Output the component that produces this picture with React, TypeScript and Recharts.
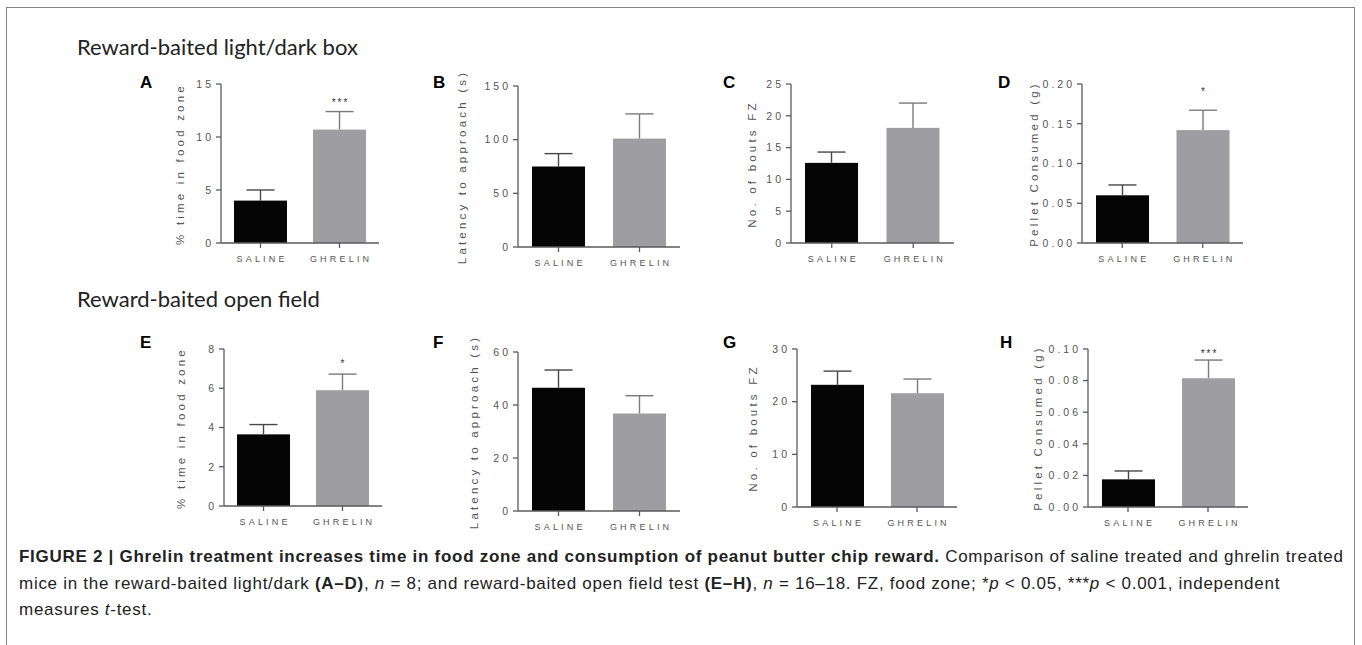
import React from 'react';
import { BarChart, Bar, XAxis, YAxis, Cell } from 'recharts';

// ---------- data ----------
const categories = ['SALINE', 'GHRELIN'];
const panelLetters = ['A', 'B', 'C', 'D', 'E', 'F', 'G', 'H'];
const rowTitles = ['Reward-baited light/dark box', 'Reward-baited open field'];
const yAxisLabels = [
  '% time in food zone',
  'Latency to approach (s)',
  'No. of bouts FZ',
  'Pellet Consumed (g)',
  '% time in food zone',
  'Latency to approach (s)',
  'No. of bouts FZ',
  'Pellet Consumed (g)',
];
const salineMean = [4.0, 75, 12.6, 0.06, 3.65, 46.5, 23.2, 0.0175];
const salineErrTop = [5.0, 87, 14.3, 0.073, 4.15, 53.2, 25.8, 0.0228];
const ghrelinMean = [10.7, 101, 18.1, 0.142, 5.9, 36.8, 21.6, 0.0815];
const ghrelinErrTop = [12.4, 124, 22.0, 0.167, 6.72, 43.5, 24.3, 0.093];
const salineSig = ['', '', '', '', '', '', '', ''];
const ghrelinSig = ['***', '', '', '*', '*', '', '', '***'];
const yTicks = [
  [0, 5, 10, 15],
  [0, 50, 100, 150],
  [0, 5, 10, 15, 20, 25],
  [0, 0.05, 0.1, 0.15, 0.2],
  [0, 2, 4, 6, 8],
  [0, 20, 40, 60],
  [0, 10, 20, 30],
  [0, 0.02, 0.04, 0.06, 0.08, 0.1],
];
const tickDecimals = [0, 0, 0, 2, 0, 0, 0, 2];

// ---------- layout / style ----------
const layout = [
  { axisX: 221, topY: 84, plotW: 158, plotH: 159, labelX: 180, letterX: 140, letterY: 83, starGap: 6 },
  { axisX: 518, topY: 86, plotW: 162, plotH: 161, labelX: 462, letterX: 433, letterY: 83, starGap: 6 },
  { axisX: 791, topY: 84, plotW: 163, plotH: 159, labelX: 752, letterX: 723, letterY: 83, starGap: 6 },
  { axisX: 1082, topY: 84, plotW: 161, plotH: 159, labelX: 1034, letterX: 998, letterY: 83, starGap: 15 },
  { axisX: 224, topY: 349, plotW: 158, plotH: 157, labelX: 181, letterX: 140, letterY: 343, starGap: 7 },
  { axisX: 518, topY: 352, plotW: 162, plotH: 159, labelX: 474, letterX: 433, letterY: 343, starGap: 6 },
  { axisX: 797, topY: 349, plotW: 160, plotH: 158, labelX: 753, letterX: 723, letterY: 343, starGap: 6 },
  { axisX: 1088, topY: 349, plotW: 160, plotH: 158, labelX: 1038, letterX: 1000, letterY: 343, starGap: 3 },
];
const barColors = ['#050505', '#9e9ea2'];
const errColors = ['#474747', '#7a7a7a'];
const axisColor = '#5a5a5a';
const tickColor = '#555';
const FONT = '"Liberation Sans", Arial, sans-serif';
const Y_AXIS_W = 50;
const M_TOP = 26;
const M_RIGHT = 8;
const X_AXIS_H = 32;
const CAP_HALF = 14;

const YTick = (props: any) => {
  const { x, y, payload, decimals } = props;
  return (
    <text
      x={x}
      y={y}
      dy={3.8}
      textAnchor="end"
      fill={tickColor}
      fontSize={10.5}
      fontFamily={FONT}
      style={{ letterSpacing: '3px' }}
    >
      {Number(payload.value).toFixed(decimals)}
    </text>
  );
};

const XTick = (props: any) => {
  const { x, y, payload } = props;
  return (
    <text
      x={x + 1.6}
      y={y}
      dy={12}
      textAnchor="middle"
      fill={tickColor}
      fontSize={9}
      fontFamily={FONT}
      style={{ letterSpacing: '3.2px' }}
    >
      {payload.value}
    </text>
  );
};

// bar + upward error bar + significance mark, all positioned from the bar geometry
const makeShape = (gap: number) => (props: any) => {
  const { x, y, width, height, fill, payload, index } = props;
  const pxPerUnit = payload.mean !== 0 ? height / payload.mean : 0;
  const errPx = y - (payload.errTop - payload.mean) * pxPerUnit;
  const cx = x + width / 2;
  const ec = errColors[index] || '#555';
  return (
    <g>
      <rect x={x} y={y} width={width} height={height} fill={fill} />
      <line x1={cx} y1={y} x2={cx} y2={errPx} stroke={ec} strokeWidth={1.4} />
      <line x1={cx - CAP_HALF} y1={errPx} x2={cx + CAP_HALF} y2={errPx} stroke={ec} strokeWidth={1.4} />
      {payload.sig ? (
        <text
          x={cx + 1}
          y={errPx - gap}
          textAnchor="middle"
          fill="#333"
          fontSize={10}
          fontFamily={FONT}
          style={{ letterSpacing: '2px' }}
        >
          {payload.sig}
        </text>
      ) : null}
    </g>
  );
};

const Panel = ({ i }: { i: number }) => {
  const L = layout[i];
  const data = categories.map((c, k) => {
    const mean = k === 0 ? salineMean[i] : ghrelinMean[i];
    const errTop = k === 0 ? salineErrTop[i] : ghrelinErrTop[i];
    return {
      cat: c,
      mean,
      errTop,
      sig: k === 0 ? salineSig[i] : ghrelinSig[i],
    };
  });
  const ticks = yTicks[i];
  const chartW = Y_AXIS_W + L.plotW + M_RIGHT;
  const chartH = M_TOP + L.plotH + X_AXIS_H;
  const centerY = L.topY + L.plotH / 2;
  return (
    <>
      <div
        style={{
          position: 'absolute',
          left: L.axisX - Y_AXIS_W,
          top: L.topY - M_TOP,
          width: chartW,
          height: chartH,
        }}
      >
        <BarChart
          width={chartW}
          height={chartH}
          data={data}
          margin={{ top: M_TOP, right: M_RIGHT, left: 0, bottom: 0 }}
          barCategoryGap={0}
        >
          <XAxis
            dataKey="cat"
            axisLine={{ stroke: axisColor, strokeWidth: 1.3 }}
            tickLine={{ stroke: axisColor, strokeWidth: 1.3 }}
            tickSize={5}
            tick={<XTick />}
            height={X_AXIS_H}
            interval={0}
          />
          <YAxis
            width={Y_AXIS_W}
            domain={[0, ticks[ticks.length - 1]]}
            ticks={ticks}
            allowDataOverflow
            axisLine={{ stroke: axisColor, strokeWidth: 1.3 }}
            tickLine={{ stroke: axisColor, strokeWidth: 1.3 }}
            tickSize={5}
            tickMargin={2}
            tick={<YTick decimals={tickDecimals[i]} />}
          />
          <Bar dataKey="mean" barSize={53} isAnimationActive={false} shape={makeShape(L.starGap)}>
            {data.map((d, k) => (
              <Cell key={d.cat} fill={barColors[k]} />
            ))}
          </Bar>
        </BarChart>
      </div>
      <div
        style={{
          position: 'absolute',
          left: L.labelX - 150,
          top: centerY - 8,
          width: 300,
          height: 16,
          lineHeight: '16px',
          textAlign: 'center',
          transform: 'rotate(-90deg)',
          fontFamily: FONT,
          fontSize: 11.5,
          letterSpacing: '3.2px',
          color: tickColor,
          whiteSpace: 'nowrap',
        }}
      >
        {yAxisLabels[i]}
      </div>
      <div
        style={{
          position: 'absolute',
          left: L.letterX,
          top: L.letterY - 11,
          height: 22,
          lineHeight: '22px',
          fontFamily: FONT,
          fontWeight: 'bold',
          fontSize: 17,
          color: '#000',
        }}
      >
        {panelLetters[i]}
      </div>
    </>
  );
};

const captionStyle: React.CSSProperties = {
  position: 'absolute',
  left: 19,
  fontFamily: FONT,
  fontSize: 17,
  letterSpacing: '0.72px',
  color: '#222',
  whiteSpace: 'nowrap',
  lineHeight: '20px',
};

export default function App() {
  return (
    <div
      style={{
        position: 'absolute',
        left: 0,
        top: 0,
        width: 1362,
        height: 645,
        overflow: 'hidden',
        background: '#fff',
      }}
    >
      <div
        style={{
          position: 'absolute',
          left: 6,
          top: 7,
          width: 1347,
          height: 700,
          border: '1.5px solid #858585',
        }}
      />
      {rowTitles.map((t, r) => (
        <div
          key={t}
          style={{
            position: 'absolute',
            left: 77,
            top: r === 0 ? 32 : 284,
            lineHeight: '30px',
            fontFamily: 'Lato, "Open Sans", sans-serif',
            fontSize: 22,
            color: '#222',
            whiteSpace: 'nowrap',
          }}
        >
          {t}
        </div>
      ))}
      {panelLetters.map((_, i) => (
        <Panel key={i} i={i} />
      ))}
      <div style={{ ...captionStyle, top: 547 }}>
        <b>
          FIGURE 2 | Ghrelin treatment increases time in food zone and consumption of peanut butter chip reward.
        </b>{' '}
        Comparison of saline treated and ghrelin treated
      </div>
      <div style={{ ...captionStyle, top: 574 }}>
        mice in the reward-baited light/dark <b>(A–D)</b>, <i>n</i> = 8; and reward-baited open field test{' '}
        <b>(E–H)</b>, <i>n</i> = 16–18. FZ, food zone; *<i>p</i> &lt; 0.05, ***<i>p</i> &lt; 0.001, independent
      </div>
      <div style={{ ...captionStyle, top: 600 }}>
        measures <i>t</i>-test.
      </div>
    </div>
  );
}
